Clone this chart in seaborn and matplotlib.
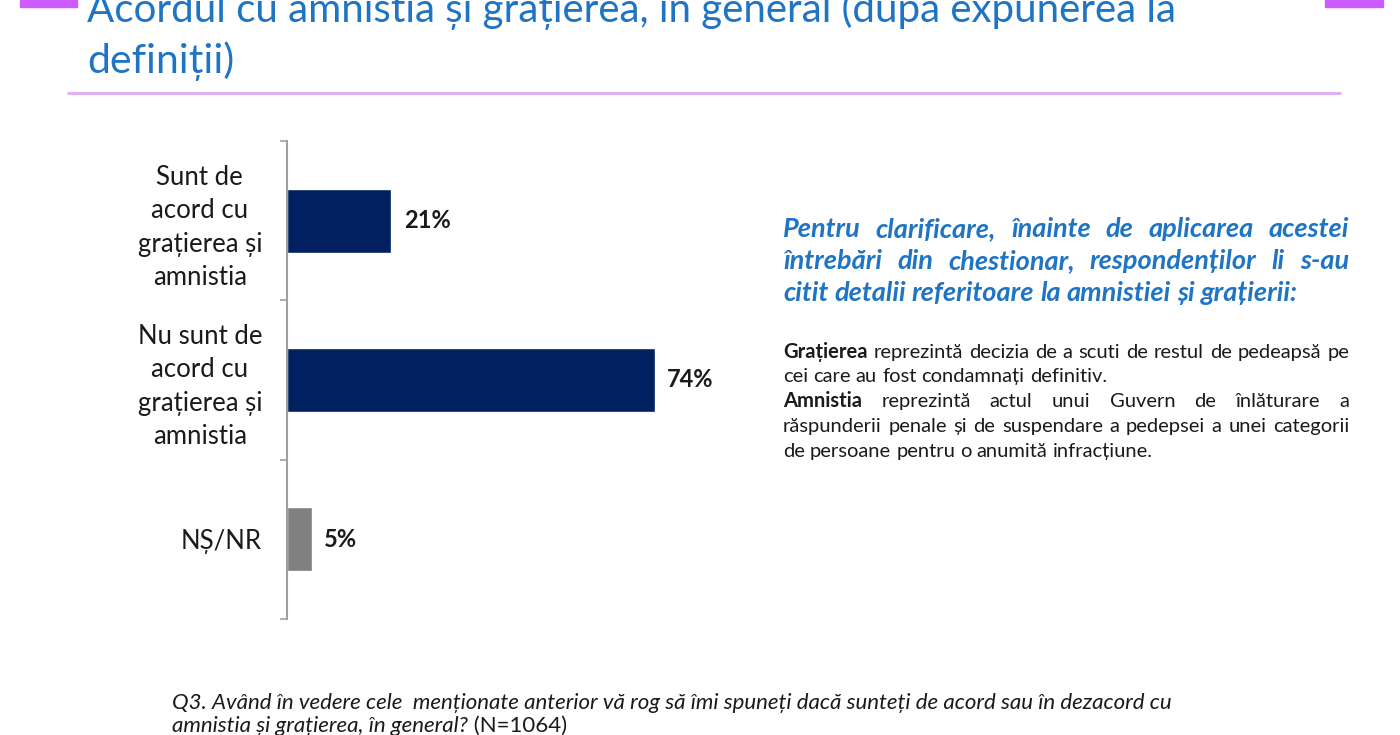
import pandas as pd
import seaborn as sns
import matplotlib.pyplot as plt
from matplotlib.lines import Line2D
from matplotlib.patches import Rectangle

# data
categorii = [
    "Sunt de\nacord cu\ngrațierea și\namnistia",
    "Nu sunt de\nacord cu\ngrațierea și\namnistia",
    "NȘ/NR",
]
procente = [21, 74, 5]
culori = ["#002060", "#002060", "#808080"]

titlu = [
    "Acordul cu amnistia și grațierea, în general (după expunerea la",
    "definiții)",
]
nota_albastra = [
    "Pentru clarificare, înainte de aplicarea acestei",
    "întrebări din chestionar, respondenților li s-au",
    "citit detalii referitoare la amnistiei și grațierii:",
]
# (text, bold first word, justified)
definitii = [
    ("Grațierea reprezintă decizia de a scuti de restul de pedeapsă pe", True, True),
    ("cei care au fost condamnați definitiv.", False, False),
    ("Amnistia reprezintă actul unui Guvern de înlăturare a", True, True),
    ("răspunderii penale și de suspendare a pedepsei a unei categorii", False, True),
    ("de persoane pentru o anumită infracțiune.", False, False),
]
intrebare = [
    "Q3. Având în vedere cele  menționate anterior vă rog să îmi spuneți dacă sunteți de acord sau în dezacord cu",
    "amnistia și grațierea, în general?",
    " (N=1064)",
]

W, H = 1400, 735
FONT = ["Lato", "DejaVu Sans"]

sns.set_theme(style="white")
plt.rcParams["font.family"] = FONT

fig = plt.figure(figsize=(W / 100, H / 100), dpi=100)
renderer = fig.canvas.get_renderer()


def fx(x):
    return x / W


def fy(y):
    return 1 - y / H


# header decoration
fig.patches.append(Rectangle((fx(20), fy(7)), fx(57), 7 / H, color="#CC5CFF",
                             transform=fig.transFigure, zorder=0))
fig.patches.append(Rectangle((fx(1325), fy(7)), fx(58), 7 / H, color="#CC5CFF",
                             transform=fig.transFigure, zorder=0))
fig.lines.append(Line2D([fx(68), fx(1340)], [fy(93), fy(93)], color="#E3AAF7",
                        lw=2, transform=fig.transFigure))

fig.text(fx(87), fy(22), titlu[0], fontsize=29, color="#1F74C4", va="baseline")
fig.text(fx(87), fy(73), titlu[1], fontsize=29.5, color="#1F74C4", va="baseline")

# chart
df = pd.DataFrame({"categorie": categorii, "procent": procente})
ax = fig.add_axes([fx(287), fy(619), fx(784) - fx(287), fy(141) - fy(619)])
sns.barplot(data=df, y="categorie", x="procent", hue="categorie", palette=culori,
            orient="h", width=0.4, legend=False, saturation=1, ax=ax)

for cont in ax.containers:
    ax.bar_label(cont, fmt="%d%%", padding=9, fontsize=17, fontweight="bold",
                 color="#1A1A1A")

ax.set_xlim(0, 100)
ax.set_ylim(2.5, -0.5)
ax.set_xlabel("")
ax.set_ylabel("")
ax.set_xticks([])
ax.set_yticks(range(len(categorii)))
ax.set_yticklabels(categorii, fontsize=18.5, color="#1A1A1A", linespacing=1.42,
                   multialignment="center")
ax.set_yticks([-0.5, 0.5, 1.5, 2.5], minor=True)
ax.tick_params(axis="y", which="major", length=0, pad=18)
ax.tick_params(axis="y", which="minor", length=5, width=1.2, color="#A0A0A0", left=True)
for s in ["top", "right", "bottom"]:
    ax.spines[s].set_visible(False)
ax.spines["left"].set_color("#A0A0A0")
ax.spines["left"].set_linewidth(1.5)


# right side notes
def latime(t):
    return t.get_window_extent(renderer).width


def scrie_justificat(text, y, x0, x1, size, color, style, bold_first=False,
                     weight="normal", justify=True):
    words = text.split()
    objs = []
    for i, w in enumerate(words):
        wt = "bold" if (bold_first and i == 0) else weight
        t = fig.text(fx(x0), fy(y), w, fontsize=size, color=color, style=style,
                     fontweight=wt, va="baseline")
        objs.append(t)
    widths = [latime(t) for t in objs]
    if justify and len(words) > 1:
        gap = (x1 - x0 - sum(widths)) / (len(words) - 1)
    else:
        sp = fig.text(0, 0, "a a", fontsize=size, style=style, fontweight=weight)
        sp2 = fig.text(0, 0, "aa", fontsize=size, style=style, fontweight=weight)
        gap = latime(sp) - latime(sp2)
        sp.remove()
        sp2.remove()
    x = x0
    for t, w in zip(objs, widths):
        t.set_x(fx(x))
        x += w + gap


for i, line in enumerate(nota_albastra):
    scrie_justificat(line, 237 + 32 * i, 783, 1349, 19.5, "#1F74C4", "italic",
                     weight="bold", justify=(i < len(nota_albastra) - 1))

ys = [358, 382, 407, 432, 457]
for (line, bf, just), y in zip(definitii, ys):
    scrie_justificat(line, y, 783, 1349, 14.5, "#1A1A1A", "normal",
                     bold_first=bf, justify=just)

fig.text(fx(172), fy(709), intrebare[0], fontsize=16, style="italic",
         color="#1A1A1A", va="baseline")
t2 = fig.text(fx(172), fy(732), intrebare[1], fontsize=16, style="italic",
              color="#1A1A1A", va="baseline")
fig.text(fx(172 + latime(t2)), fy(732), intrebare[2], fontsize=16,
         color="#1A1A1A", va="baseline")

fig.savefig("out.png", dpi=100)
